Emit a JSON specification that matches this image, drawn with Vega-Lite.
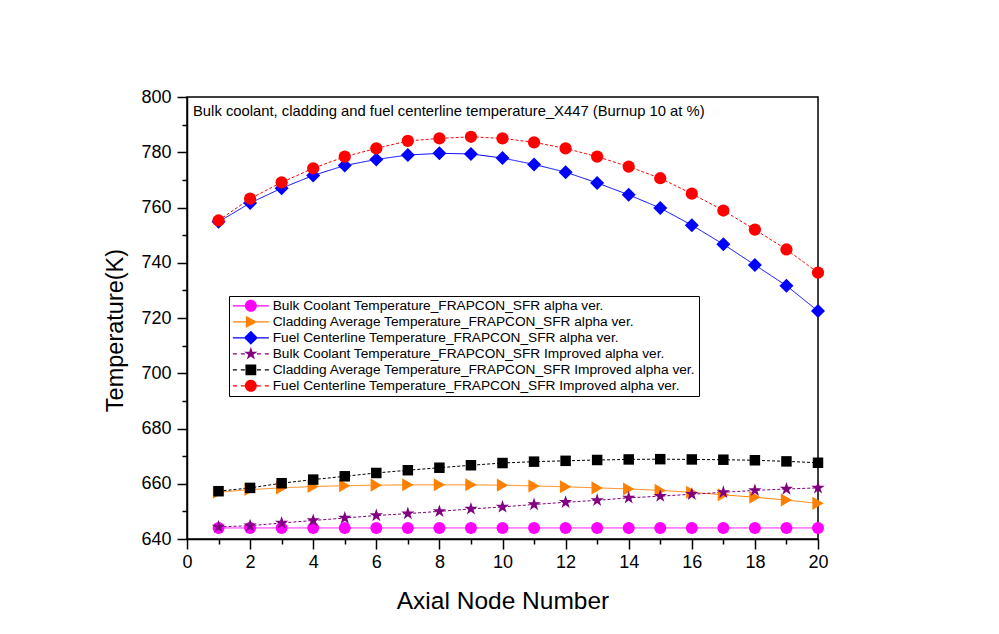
{
  "$schema": "https://vega.github.io/schema/vega-lite/v6.json",
  "width": 631,
  "height": 442,
  "autosize": "none",
  "padding": {"left": 187, "top": 97, "right": 181, "bottom": 95},
  "background": "white",
  "config": {
    "font": "Liberation Sans",
    "view": {"stroke": "black", "strokeWidth": 1.5}
  },
  "title": {
    "text": "Bulk coolant, cladding and fuel centerline temperature_X447 (Burnup 10 at %)",
    "anchor": "start",
    "frame": "group",
    "orient": "top",
    "baseline": "top",
    "offset": 0,
    "dy": 31,
    "dx": 6,
    "font": "Liberation Sans",
    "fontSize": 14.8,
    "fontWeight": "normal",
    "color": "black"
  },
  "datasets": {
    "t": [
      {"node": 1, "series": "Bulk Coolant Temperature_FRAPCON_SFR alpha ver.", "temp": 644.0},
      {"node": 2, "series": "Bulk Coolant Temperature_FRAPCON_SFR alpha ver.", "temp": 644.0},
      {"node": 3, "series": "Bulk Coolant Temperature_FRAPCON_SFR alpha ver.", "temp": 644.0},
      {"node": 4, "series": "Bulk Coolant Temperature_FRAPCON_SFR alpha ver.", "temp": 644.0},
      {"node": 5, "series": "Bulk Coolant Temperature_FRAPCON_SFR alpha ver.", "temp": 644.0},
      {"node": 6, "series": "Bulk Coolant Temperature_FRAPCON_SFR alpha ver.", "temp": 644.0},
      {"node": 7, "series": "Bulk Coolant Temperature_FRAPCON_SFR alpha ver.", "temp": 644.0},
      {"node": 8, "series": "Bulk Coolant Temperature_FRAPCON_SFR alpha ver.", "temp": 644.0},
      {"node": 9, "series": "Bulk Coolant Temperature_FRAPCON_SFR alpha ver.", "temp": 644.0},
      {"node": 10, "series": "Bulk Coolant Temperature_FRAPCON_SFR alpha ver.", "temp": 644.0},
      {"node": 11, "series": "Bulk Coolant Temperature_FRAPCON_SFR alpha ver.", "temp": 644.0},
      {"node": 12, "series": "Bulk Coolant Temperature_FRAPCON_SFR alpha ver.", "temp": 644.0},
      {"node": 13, "series": "Bulk Coolant Temperature_FRAPCON_SFR alpha ver.", "temp": 644.0},
      {"node": 14, "series": "Bulk Coolant Temperature_FRAPCON_SFR alpha ver.", "temp": 644.0},
      {"node": 15, "series": "Bulk Coolant Temperature_FRAPCON_SFR alpha ver.", "temp": 644.0},
      {"node": 16, "series": "Bulk Coolant Temperature_FRAPCON_SFR alpha ver.", "temp": 644.0},
      {"node": 17, "series": "Bulk Coolant Temperature_FRAPCON_SFR alpha ver.", "temp": 644.0},
      {"node": 18, "series": "Bulk Coolant Temperature_FRAPCON_SFR alpha ver.", "temp": 644.0},
      {"node": 19, "series": "Bulk Coolant Temperature_FRAPCON_SFR alpha ver.", "temp": 644.0},
      {"node": 20, "series": "Bulk Coolant Temperature_FRAPCON_SFR alpha ver.", "temp": 644.0},
      {"node": 1, "series": "Cladding Average Temperature_FRAPCON_SFR alpha ver.", "temp": 656.9},
      {"node": 2, "series": "Cladding Average Temperature_FRAPCON_SFR alpha ver.", "temp": 657.9},
      {"node": 3, "series": "Cladding Average Temperature_FRAPCON_SFR alpha ver.", "temp": 658.5},
      {"node": 4, "series": "Cladding Average Temperature_FRAPCON_SFR alpha ver.", "temp": 659.0},
      {"node": 5, "series": "Cladding Average Temperature_FRAPCON_SFR alpha ver.", "temp": 659.3},
      {"node": 6, "series": "Cladding Average Temperature_FRAPCON_SFR alpha ver.", "temp": 659.5},
      {"node": 7, "series": "Cladding Average Temperature_FRAPCON_SFR alpha ver.", "temp": 659.6},
      {"node": 8, "series": "Cladding Average Temperature_FRAPCON_SFR alpha ver.", "temp": 659.6},
      {"node": 9, "series": "Cladding Average Temperature_FRAPCON_SFR alpha ver.", "temp": 659.6},
      {"node": 10, "series": "Cladding Average Temperature_FRAPCON_SFR alpha ver.", "temp": 659.5},
      {"node": 11, "series": "Cladding Average Temperature_FRAPCON_SFR alpha ver.", "temp": 659.2},
      {"node": 12, "series": "Cladding Average Temperature_FRAPCON_SFR alpha ver.", "temp": 658.9},
      {"node": 13, "series": "Cladding Average Temperature_FRAPCON_SFR alpha ver.", "temp": 658.5},
      {"node": 14, "series": "Cladding Average Temperature_FRAPCON_SFR alpha ver.", "temp": 658.1},
      {"node": 15, "series": "Cladding Average Temperature_FRAPCON_SFR alpha ver.", "temp": 657.6},
      {"node": 16, "series": "Cladding Average Temperature_FRAPCON_SFR alpha ver.", "temp": 656.9},
      {"node": 17, "series": "Cladding Average Temperature_FRAPCON_SFR alpha ver.", "temp": 656.0},
      {"node": 18, "series": "Cladding Average Temperature_FRAPCON_SFR alpha ver.", "temp": 655.1},
      {"node": 19, "series": "Cladding Average Temperature_FRAPCON_SFR alpha ver.", "temp": 654.1},
      {"node": 20, "series": "Cladding Average Temperature_FRAPCON_SFR alpha ver.", "temp": 652.9},
      {"node": 1, "series": "Fuel Centerline Temperature_FRAPCON_SFR alpha ver.", "temp": 754.8},
      {"node": 2, "series": "Fuel Centerline Temperature_FRAPCON_SFR alpha ver.", "temp": 761.6},
      {"node": 3, "series": "Fuel Centerline Temperature_FRAPCON_SFR alpha ver.", "temp": 767.0},
      {"node": 4, "series": "Fuel Centerline Temperature_FRAPCON_SFR alpha ver.", "temp": 771.6},
      {"node": 5, "series": "Fuel Centerline Temperature_FRAPCON_SFR alpha ver.", "temp": 775.2},
      {"node": 6, "series": "Fuel Centerline Temperature_FRAPCON_SFR alpha ver.", "temp": 777.4},
      {"node": 7, "series": "Fuel Centerline Temperature_FRAPCON_SFR alpha ver.", "temp": 779.0},
      {"node": 8, "series": "Fuel Centerline Temperature_FRAPCON_SFR alpha ver.", "temp": 779.6},
      {"node": 9, "series": "Fuel Centerline Temperature_FRAPCON_SFR alpha ver.", "temp": 779.4},
      {"node": 10, "series": "Fuel Centerline Temperature_FRAPCON_SFR alpha ver.", "temp": 777.9},
      {"node": 11, "series": "Fuel Centerline Temperature_FRAPCON_SFR alpha ver.", "temp": 775.6},
      {"node": 12, "series": "Fuel Centerline Temperature_FRAPCON_SFR alpha ver.", "temp": 772.8},
      {"node": 13, "series": "Fuel Centerline Temperature_FRAPCON_SFR alpha ver.", "temp": 768.9},
      {"node": 14, "series": "Fuel Centerline Temperature_FRAPCON_SFR alpha ver.", "temp": 764.6},
      {"node": 15, "series": "Fuel Centerline Temperature_FRAPCON_SFR alpha ver.", "temp": 759.8},
      {"node": 16, "series": "Fuel Centerline Temperature_FRAPCON_SFR alpha ver.", "temp": 753.6},
      {"node": 17, "series": "Fuel Centerline Temperature_FRAPCON_SFR alpha ver.", "temp": 746.7},
      {"node": 18, "series": "Fuel Centerline Temperature_FRAPCON_SFR alpha ver.", "temp": 739.2},
      {"node": 19, "series": "Fuel Centerline Temperature_FRAPCON_SFR alpha ver.", "temp": 731.7},
      {"node": 20, "series": "Fuel Centerline Temperature_FRAPCON_SFR alpha ver.", "temp": 722.5},
      {"node": 1, "series": "Bulk Coolant Temperature_FRAPCON_SFR Improved alpha ver.", "temp": 644.4},
      {"node": 2, "series": "Bulk Coolant Temperature_FRAPCON_SFR Improved alpha ver.", "temp": 644.8},
      {"node": 3, "series": "Bulk Coolant Temperature_FRAPCON_SFR Improved alpha ver.", "temp": 645.8},
      {"node": 4, "series": "Bulk Coolant Temperature_FRAPCON_SFR Improved alpha ver.", "temp": 646.7},
      {"node": 5, "series": "Bulk Coolant Temperature_FRAPCON_SFR Improved alpha ver.", "temp": 647.6},
      {"node": 6, "series": "Bulk Coolant Temperature_FRAPCON_SFR Improved alpha ver.", "temp": 648.5},
      {"node": 7, "series": "Bulk Coolant Temperature_FRAPCON_SFR Improved alpha ver.", "temp": 649.2},
      {"node": 8, "series": "Bulk Coolant Temperature_FRAPCON_SFR Improved alpha ver.", "temp": 650.0},
      {"node": 9, "series": "Bulk Coolant Temperature_FRAPCON_SFR Improved alpha ver.", "temp": 650.9},
      {"node": 10, "series": "Bulk Coolant Temperature_FRAPCON_SFR Improved alpha ver.", "temp": 651.6},
      {"node": 11, "series": "Bulk Coolant Temperature_FRAPCON_SFR Improved alpha ver.", "temp": 652.5},
      {"node": 12, "series": "Bulk Coolant Temperature_FRAPCON_SFR Improved alpha ver.", "temp": 653.3},
      {"node": 13, "series": "Bulk Coolant Temperature_FRAPCON_SFR Improved alpha ver.", "temp": 654.0},
      {"node": 14, "series": "Bulk Coolant Temperature_FRAPCON_SFR Improved alpha ver.", "temp": 654.9},
      {"node": 15, "series": "Bulk Coolant Temperature_FRAPCON_SFR Improved alpha ver.", "temp": 655.5},
      {"node": 16, "series": "Bulk Coolant Temperature_FRAPCON_SFR Improved alpha ver.", "temp": 656.2},
      {"node": 17, "series": "Bulk Coolant Temperature_FRAPCON_SFR Improved alpha ver.", "temp": 656.9},
      {"node": 18, "series": "Bulk Coolant Temperature_FRAPCON_SFR Improved alpha ver.", "temp": 657.6},
      {"node": 19, "series": "Bulk Coolant Temperature_FRAPCON_SFR Improved alpha ver.", "temp": 658.1},
      {"node": 20, "series": "Bulk Coolant Temperature_FRAPCON_SFR Improved alpha ver.", "temp": 658.5},
      {"node": 1, "series": "Cladding Average Temperature_FRAPCON_SFR Improved alpha ver.", "temp": 657.3},
      {"node": 2, "series": "Cladding Average Temperature_FRAPCON_SFR Improved alpha ver.", "temp": 658.5},
      {"node": 3, "series": "Cladding Average Temperature_FRAPCON_SFR Improved alpha ver.", "temp": 660.2},
      {"node": 4, "series": "Cladding Average Temperature_FRAPCON_SFR Improved alpha ver.", "temp": 661.5},
      {"node": 5, "series": "Cladding Average Temperature_FRAPCON_SFR Improved alpha ver.", "temp": 662.7},
      {"node": 6, "series": "Cladding Average Temperature_FRAPCON_SFR Improved alpha ver.", "temp": 663.9},
      {"node": 7, "series": "Cladding Average Temperature_FRAPCON_SFR Improved alpha ver.", "temp": 664.9},
      {"node": 8, "series": "Cladding Average Temperature_FRAPCON_SFR Improved alpha ver.", "temp": 665.8},
      {"node": 9, "series": "Cladding Average Temperature_FRAPCON_SFR Improved alpha ver.", "temp": 666.7},
      {"node": 10, "series": "Cladding Average Temperature_FRAPCON_SFR Improved alpha ver.", "temp": 667.5},
      {"node": 11, "series": "Cladding Average Temperature_FRAPCON_SFR Improved alpha ver.", "temp": 668.0},
      {"node": 12, "series": "Cladding Average Temperature_FRAPCON_SFR Improved alpha ver.", "temp": 668.3},
      {"node": 13, "series": "Cladding Average Temperature_FRAPCON_SFR Improved alpha ver.", "temp": 668.6},
      {"node": 14, "series": "Cladding Average Temperature_FRAPCON_SFR Improved alpha ver.", "temp": 668.8},
      {"node": 15, "series": "Cladding Average Temperature_FRAPCON_SFR Improved alpha ver.", "temp": 668.9},
      {"node": 16, "series": "Cladding Average Temperature_FRAPCON_SFR Improved alpha ver.", "temp": 668.8},
      {"node": 17, "series": "Cladding Average Temperature_FRAPCON_SFR Improved alpha ver.", "temp": 668.7},
      {"node": 18, "series": "Cladding Average Temperature_FRAPCON_SFR Improved alpha ver.", "temp": 668.5},
      {"node": 19, "series": "Cladding Average Temperature_FRAPCON_SFR Improved alpha ver.", "temp": 668.1},
      {"node": 20, "series": "Cladding Average Temperature_FRAPCON_SFR Improved alpha ver.", "temp": 667.6},
      {"node": 1, "series": "Fuel Centerline Temperature_FRAPCON_SFR Improved alpha ver.", "temp": 755.3},
      {"node": 2, "series": "Fuel Centerline Temperature_FRAPCON_SFR Improved alpha ver.", "temp": 763.2},
      {"node": 3, "series": "Fuel Centerline Temperature_FRAPCON_SFR Improved alpha ver.", "temp": 769.1},
      {"node": 4, "series": "Fuel Centerline Temperature_FRAPCON_SFR Improved alpha ver.", "temp": 774.2},
      {"node": 5, "series": "Fuel Centerline Temperature_FRAPCON_SFR Improved alpha ver.", "temp": 778.4},
      {"node": 6, "series": "Fuel Centerline Temperature_FRAPCON_SFR Improved alpha ver.", "temp": 781.4},
      {"node": 7, "series": "Fuel Centerline Temperature_FRAPCON_SFR Improved alpha ver.", "temp": 784.1},
      {"node": 8, "series": "Fuel Centerline Temperature_FRAPCON_SFR Improved alpha ver.", "temp": 785.0},
      {"node": 9, "series": "Fuel Centerline Temperature_FRAPCON_SFR Improved alpha ver.", "temp": 785.6},
      {"node": 10, "series": "Fuel Centerline Temperature_FRAPCON_SFR Improved alpha ver.", "temp": 785.0},
      {"node": 11, "series": "Fuel Centerline Temperature_FRAPCON_SFR Improved alpha ver.", "temp": 783.6},
      {"node": 12, "series": "Fuel Centerline Temperature_FRAPCON_SFR Improved alpha ver.", "temp": 781.4},
      {"node": 13, "series": "Fuel Centerline Temperature_FRAPCON_SFR Improved alpha ver.", "temp": 778.4},
      {"node": 14, "series": "Fuel Centerline Temperature_FRAPCON_SFR Improved alpha ver.", "temp": 774.8},
      {"node": 15, "series": "Fuel Centerline Temperature_FRAPCON_SFR Improved alpha ver.", "temp": 770.6},
      {"node": 16, "series": "Fuel Centerline Temperature_FRAPCON_SFR Improved alpha ver.", "temp": 765.0},
      {"node": 17, "series": "Fuel Centerline Temperature_FRAPCON_SFR Improved alpha ver.", "temp": 758.9},
      {"node": 18, "series": "Fuel Centerline Temperature_FRAPCON_SFR Improved alpha ver.", "temp": 752.0},
      {"node": 19, "series": "Fuel Centerline Temperature_FRAPCON_SFR Improved alpha ver.", "temp": 744.8},
      {"node": 20, "series": "Fuel Centerline Temperature_FRAPCON_SFR Improved alpha ver.", "temp": 736.4}
    ]
  },
  "data": {"name": "t"},
  "encoding": {
    "x": {
      "field": "node",
      "type": "quantitative",
      "scale": {"domain": [0, 20], "nice": false, "zero": false},
      "axis": {
        "title": "Axial Node Number",
        "values": [0, 1, 2, 3, 4, 5, 6, 7, 8, 9, 10, 11, 12, 13, 14, 15, 16, 17, 18, 19, 20],
        "labelExpr": "datum.value % 2 === 0 ? datum.label : ''",
        "tickSize": {"condition": {"test": "datum.value % 2 === 0", "value": 10}, "value": 5},
        "grid": false,
        "domainColor": "black",
        "domainWidth": 1.5,
        "tickColor": "black",
        "tickWidth": 1.5,
        "labelFont": "Liberation Sans",
        "labelFontSize": 18,
        "labelColor": "black",
        "labelPadding": 4,
        "labelFlush": false,
        "labelOverlap": false,
        "titleFont": "Liberation Sans",
        "titleFontSize": 24.5,
        "titleFontWeight": "normal",
        "titleColor": "black",
        "titleBaseline": "alphabetic",
        "titleY": 69
      }
    },
    "y": {
      "field": "temp",
      "type": "quantitative",
      "scale": {"domain": [640, 800], "nice": false, "zero": false},
      "axis": {
        "title": "Temperature(K)",
        "values": [640, 650, 660, 670, 680, 690, 700, 710, 720, 730, 740, 750, 760, 770, 780, 790, 800],
        "labelExpr": "datum.value % 20 === 0 ? datum.label : ''",
        "tickSize": {"condition": {"test": "datum.value % 20 === 0", "value": 10}, "value": 5},
        "grid": false,
        "domainColor": "black",
        "domainWidth": 1.5,
        "tickColor": "black",
        "tickWidth": 1.5,
        "labelFont": "Liberation Sans",
        "labelFontSize": 18,
        "labelColor": "black",
        "labelPadding": 6,
        "labelFlush": false,
        "labelOverlap": false,
        "titleFont": "Liberation Sans",
        "titleFontSize": 23.5,
        "titleFontWeight": "normal",
        "titleColor": "black",
        "titleBaseline": "alphabetic",
        "titleAlign": "center",
        "titleAngle": -90,
        "titleX": -65,
        "titleY": 233
      }
    }
  },
  "layer": [
    {
      "mark": {"type": "line", "strokeWidth": 1},
      "encoding": {
        "stroke": {
          "field": "series",
          "type": "nominal",
          "scale": {
            "domain": [
              "Fuel Centerline Temperature_FRAPCON_SFR Improved alpha ver.",
              "Cladding Average Temperature_FRAPCON_SFR Improved alpha ver.",
              "Bulk Coolant Temperature_FRAPCON_SFR Improved alpha ver.",
              "Fuel Centerline Temperature_FRAPCON_SFR alpha ver.",
              "Cladding Average Temperature_FRAPCON_SFR alpha ver.",
              "Bulk Coolant Temperature_FRAPCON_SFR alpha ver."
            ],
            "range": ["#FF0000", "#000000", "#800080", "#0000FF", "#FF8000", "#FF00FF"]
          },
          "legend": null
        },
        "strokeDash": {
          "field": "series",
          "type": "nominal",
          "scale": {
            "domain": [
              "Fuel Centerline Temperature_FRAPCON_SFR Improved alpha ver.",
              "Cladding Average Temperature_FRAPCON_SFR Improved alpha ver.",
              "Bulk Coolant Temperature_FRAPCON_SFR Improved alpha ver.",
              "Fuel Centerline Temperature_FRAPCON_SFR alpha ver.",
              "Cladding Average Temperature_FRAPCON_SFR alpha ver.",
              "Bulk Coolant Temperature_FRAPCON_SFR alpha ver."
            ],
            "range": [[3, 2], [3, 2], [3, 2], [1, 0], [1, 0], [1, 0]]
          },
          "legend": null
        }
      }
    },
    {
      "transform": [{"filter": {"field": "series", "equal": "Bulk Coolant Temperature_FRAPCON_SFR alpha ver."}}],
      "mark": {"type": "point", "filled": true, "opacity": 1, "shape": "circle", "size": 144, "color": "#FF00FF"}
    },
    {
      "transform": [{"filter": {"field": "series", "equal": "Cladding Average Temperature_FRAPCON_SFR alpha ver."}}],
      "mark": {"type": "point", "filled": true, "opacity": 1, "shape": "triangle-right", "size": 170, "color": "#FF8000"}
    },
    {
      "transform": [{"filter": {"field": "series", "equal": "Fuel Centerline Temperature_FRAPCON_SFR alpha ver."}}],
      "mark": {"type": "point", "filled": true, "opacity": 1, "shape": "diamond", "size": 196, "color": "#0000FF"}
    },
    {
      "transform": [{"filter": {"field": "series", "equal": "Bulk Coolant Temperature_FRAPCON_SFR Improved alpha ver."}}],
      "mark": {"type": "point", "filled": true, "opacity": 1, "shape": "M0,-1L0.225,-0.309L0.951,-0.309L0.363,0.118L0.588,0.809L0,0.382L-0.588,0.809L-0.363,0.118L-0.951,-0.309L-0.225,-0.309Z", "size": 196, "color": "#800080"}
    },
    {
      "transform": [{"filter": {"field": "series", "equal": "Cladding Average Temperature_FRAPCON_SFR Improved alpha ver."}}],
      "mark": {"type": "point", "filled": true, "opacity": 1, "shape": "square", "size": 110, "color": "#000000"}
    },
    {
      "transform": [{"filter": {"field": "series", "equal": "Fuel Centerline Temperature_FRAPCON_SFR Improved alpha ver."}}],
      "mark": {"type": "point", "filled": true, "opacity": 1, "shape": "circle", "size": 150, "color": "#FF0000"}
    },
    {
      "transform": [{"filter": "false"}],
      "mark": {"type": "point", "filled": true, "opacity": 1},
      "encoding": {
        "color": {
          "field": "series",
          "type": "nominal",
          "scale": {
            "domain": [
              "Bulk Coolant Temperature_FRAPCON_SFR alpha ver.",
              "Cladding Average Temperature_FRAPCON_SFR alpha ver.",
              "Fuel Centerline Temperature_FRAPCON_SFR alpha ver.",
              "Bulk Coolant Temperature_FRAPCON_SFR Improved alpha ver.",
              "Cladding Average Temperature_FRAPCON_SFR Improved alpha ver.",
              "Fuel Centerline Temperature_FRAPCON_SFR Improved alpha ver."
            ],
            "range": ["#FF00FF", "#FF8000", "#0000FF", "#800080", "#000000", "#FF0000"]
          },
          "legend": {
            "orient": "none", "legendX": 42, "legendY": 199, "title": null, "padding": 3,
            "strokeColor": "black", "fillColor": "white",
            "labelFont": "Liberation Sans", "labelFontSize": 13.7, "labelColor": "black", "labelLimit": 600,
            "symbolSize": 144, "symbolStrokeWidth": 0, "symbolOffset": 12, "labelOffset": 15, "rowPadding": 1
          }
        },
        "shape": {
          "field": "series",
          "type": "nominal",
          "scale": {
            "domain": [
              "Bulk Coolant Temperature_FRAPCON_SFR alpha ver.",
              "Cladding Average Temperature_FRAPCON_SFR alpha ver.",
              "Fuel Centerline Temperature_FRAPCON_SFR alpha ver.",
              "Bulk Coolant Temperature_FRAPCON_SFR Improved alpha ver.",
              "Cladding Average Temperature_FRAPCON_SFR Improved alpha ver.",
              "Fuel Centerline Temperature_FRAPCON_SFR Improved alpha ver."
            ],
            "range": [
              "M-3,-0.09L3,-0.09L3,0.09L-3,0.09Z M1,0A1,1 0 1,1 -1,0A1,1 0 1,1 1,0Z",
              "M-3,-0.09L3,-0.09L3,0.09L-3,0.09Z M-0.84,-1.02L1.02,0L-0.84,1.02Z",
              "M-3,-0.09L3,-0.09L3,0.09L-3,0.09Z M0,-1.17L1.17,0L0,1.17L-1.17,0Z",
              "M-3,-0.09L-2.33,-0.09L-2.33,0.09L-3,0.09Z M-1.67,-0.09L-1,-0.09L-1,0.09L-1.67,0.09Z M1,-0.09L1.67,-0.09L1.67,0.09L1,0.09Z M2.33,-0.09L3,-0.09L3,0.09L2.33,0.09Z M0,-1.17L0.264,-0.363L1.113,-0.363L0.429,0.138L0.687,0.948L0,0.45L-0.687,0.948L-0.429,0.138L-1.113,-0.363L-0.264,-0.363Z",
              "M-3,-0.09L-2.33,-0.09L-2.33,0.09L-3,0.09Z M-1.67,-0.09L-1,-0.09L-1,0.09L-1.67,0.09Z M1,-0.09L1.67,-0.09L1.67,0.09L1,0.09Z M2.33,-0.09L3,-0.09L3,0.09L2.33,0.09Z M-0.9,-0.9L0.9,-0.9L0.9,0.9L-0.9,0.9Z",
              "M-3,-0.09L-2.33,-0.09L-2.33,0.09L-3,0.09Z M-1.67,-0.09L-1,-0.09L-1,0.09L-1.67,0.09Z M1,-0.09L1.67,-0.09L1.67,0.09L1,0.09Z M2.33,-0.09L3,-0.09L3,0.09L2.33,0.09Z M1,0A1,1 0 1,1 -1,0A1,1 0 1,1 1,0Z"
            ]
          },
          "legend": {
            "orient": "none", "legendX": 42, "legendY": 199, "title": null, "padding": 3,
            "strokeColor": "black", "fillColor": "white",
            "labelFont": "Liberation Sans", "labelFontSize": 13.7, "labelColor": "black", "labelLimit": 600,
            "symbolSize": 144, "symbolStrokeWidth": 0, "symbolOffset": 12, "labelOffset": 15, "rowPadding": 1
          }
        }
      }
    }
  ]
}
